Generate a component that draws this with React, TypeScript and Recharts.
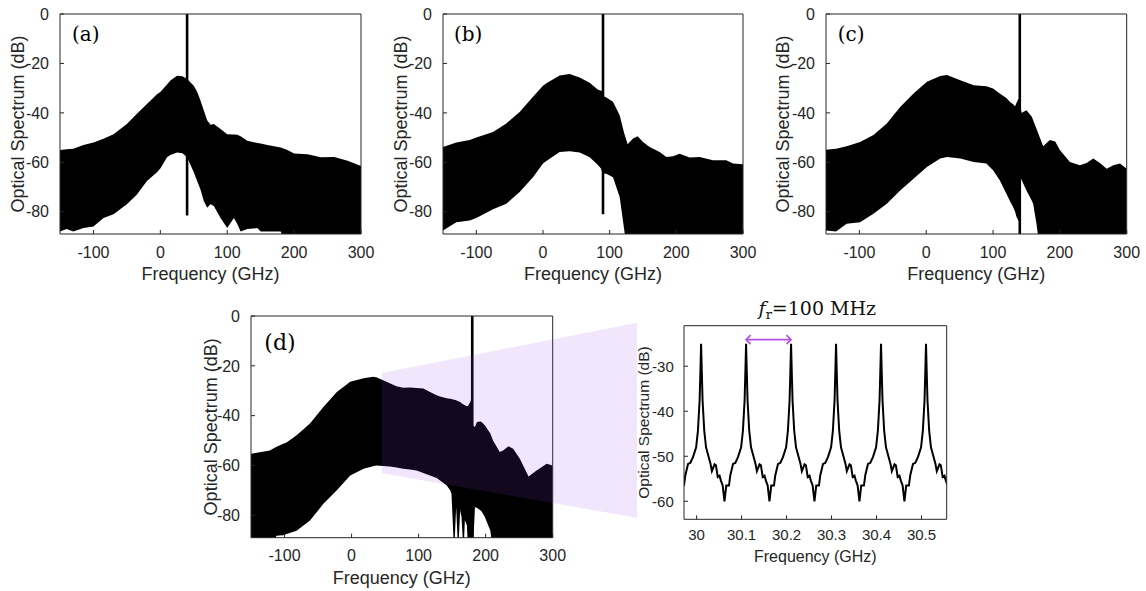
import React from 'react';
import { ComposedChart, Area, Line, XAxis, YAxis, ReferenceLine } from 'recharts';

const INK = '#262626';
const SANS = "'Liberation Sans', Arial, Helvetica, sans-serif";
const SERIF = "'DejaVu Serif', 'Liberation Serif', serif";

// ---------- shared axis settings for the four spectra ----------
const spectrumFreqTicks = [-100, 0, 100, 200, 300];
const spectrumDbTicks = [-80, -60, -40, -20, 0];
const spectrumFreqDomain = [-150, 300];
const spectrumDbDomain = [-89, 0];

// ---------- panel (a) ----------
const freqA = [-150, -140, -130, -115, -100, -85, -70, -50, -35, -20, -5, 0, 10, 15, 25, 33, 40, 50, 55, 60, 65, 70, 75, 80, 90, 100, 110, 115, 120, 130, 145, 150, 160, 180, 190, 200, 220, 240, 260, 280, 300];
const upperA = [-55, -54.7, -54.5, -53, -52, -50.5, -48.6, -44.5, -40.4, -36.4, -32.5, -31.6, -28.5, -26.9, -25, -25.2, -26.3, -29, -31.5, -35, -39, -43, -44.8, -44.5, -46.5, -48.6, -48.7, -48.8, -49.5, -51.3, -52.2, -52.4, -53, -54, -55, -56.4, -56.7, -58, -57.8, -59.4, -61.5];
const lowerA = [-88, -87, -88, -86.6, -86, -82.5, -81, -77, -73, -67.6, -64, -62.5, -58, -57, -56, -56.3, -58, -64, -67.6, -71, -75.7, -78.4, -77, -77.7, -82.5, -86.6, -82.5, -85, -88, -87, -86.6, -88, -88, -88, -95, -95, -95, -95, -95, -95, -95];

// ---------- panel (b) ----------
const freqB = [-150, -130, -110, -100, -75, -55, -35, -15, 0, 5, 25, 40, 55, 70, 82, 87, 89, 92, 95, 105, 115, 122, 125, 127, 135, 142, 150, 160, 175, 185, 195, 205, 220, 235, 255, 275, 285, 300];
const upperB = [-53.8, -52, -51, -50, -47.7, -44.3, -39.6, -33.5, -29, -28, -24.9, -24.3, -25.7, -27.8, -30.5, -31, -31, -33.5, -33.8, -35.5, -41, -48.4, -51, -52.7, -50.4, -49.5, -51.8, -53.8, -55.8, -57.8, -57.5, -56.5, -58.1, -57.8, -59.2, -59.2, -60.5, -60.8];
const lowerB = [-87.6, -84.2, -83.5, -82.5, -79, -76.8, -72, -66, -60.5, -59.5, -55.8, -55.5, -56, -58, -61, -62.5, -64, -64.6, -64.6, -66, -74, -87.6, -95, -95, -95, -95, -95, -95, -95, -95, -95, -95, -95, -95, -95, -95, -95, -95];

// ---------- panel (c) ----------
const freqC = [-150, -135, -119, -99, -79, -59, -39, -19, 1, 21, 31, 51, 71, 90, 100, 110, 120, 125, 130, 133, 135, 137, 139, 141, 143, 145, 150, 158, 160, 165, 170, 175, 185, 193, 200, 215, 230, 240, 250, 260, 270, 280, 290, 300];
const upperC = [-54.9, -54.5, -53.5, -51.8, -49, -44.3, -37.6, -32.2, -27.4, -25.1, -24.7, -26.8, -28.8, -29.2, -30.1, -32.2, -34, -35.5, -36.5, -37.3, -36, -34.9, -34, -38, -40, -39.6, -38.9, -41.6, -43, -46.4, -50, -53.5, -51, -51.6, -55, -59.9, -61.2, -60.3, -58.5, -60.3, -62.6, -61.2, -60.5, -62.6];
const lowerC = [-87.6, -88, -84.9, -84.2, -80.8, -76.8, -71.4, -66.6, -61.9, -58.5, -57.8, -58.5, -59.9, -60.5, -63.2, -67.3, -72.7, -75.5, -78.1, -80, -82, -83, -84, -66, -67.3, -68.5, -71.4, -75.5, -76.8, -85, -95, -95, -95, -95, -95, -95, -95, -95, -95, -95, -95, -95, -95, -95];

// ---------- panel (d) ----------
const freqD = [-150, -122, -112, -102, -97, -82, -62, -42, -22, -2, 18, 32, 37, 47, 57, 67, 77, 87, 97, 107, 117, 127, 132, 142, 147, 149, 153, 156, 159, 162, 164, 167, 169, 172, 174, 177, 179, 181, 184, 187, 192, 194, 199, 207, 211, 221, 226, 234, 241, 251, 264, 276, 291, 300];
const upperD = [-55.3, -54, -52.5, -51.3, -50.8, -47.9, -43.2, -36.5, -30.5, -26.4, -25, -24.4, -24.6, -25.8, -27, -28.2, -28.8, -28.7, -28.9, -29.1, -30.5, -31.8, -32.3, -33, -33.2, -33.3, -33.6, -33.8, -34.2, -34.5, -35, -35.5, -35.8, -36.2, -36, -34.5, -33, -44, -44.6, -42.6, -42.4, -42.6, -44, -47.2, -50, -54.6, -54, -52.3, -53.3, -57.3, -64.4, -62, -59.3, -60];
const lowerD = [-95, -95, -88.2, -88, -87.5, -86.2, -82.1, -75.4, -70, -64, -61.3, -60.3, -60, -60.2, -60.4, -60.8, -61.3, -61.6, -62, -63, -64, -65, -66, -68, -70, -71.4, -95, -76.8, -95, -78, -80.8, -95, -82, -84, -95, -95, -95, -95, -76.8, -77, -78, -78.5, -80.8, -86.2, -95, -95, -95, -95, -95, -95, -95, -95, -95, -95];

// CW tone of each panel: frequency (GHz) and the lowest level its line reaches (dB)
const cwFreq = [40, 90, 140, 180];
const cwFloor = [-81.5, -81, -89, -89];
const panelTags = ['(a)', '(b)', '(c)', '(d)'];

// ---------- zoomed comb ----------
const zoomFreq = [
  29.966, 29.972, 29.975, 29.981, 29.986, 29.992, 29.999, 30.003, 30.0067, 30.0085, 30.01, 30.0115, 30.0133, 30.017, 30.021, 30.027, 30.031, 30.034, 30.04, 30.043, 30.047, 30.051, 30.054, 30.058, 30.062,
  30.066, 30.072, 30.075, 30.081, 30.086, 30.092, 30.099, 30.103, 30.1067, 30.1085, 30.11, 30.1115, 30.1133, 30.117, 30.121, 30.127, 30.131, 30.134, 30.14, 30.143, 30.147, 30.151, 30.154, 30.158, 30.162,
  30.166, 30.172, 30.175, 30.181, 30.186, 30.192, 30.199, 30.203, 30.2067, 30.2085, 30.21, 30.2115, 30.2133, 30.217, 30.221, 30.227, 30.231, 30.234, 30.24, 30.243, 30.247, 30.251, 30.254, 30.258, 30.262,
  30.266, 30.272, 30.275, 30.281, 30.286, 30.292, 30.299, 30.303, 30.3067, 30.3085, 30.31, 30.3115, 30.3133, 30.317, 30.321, 30.327, 30.331, 30.334, 30.34, 30.343, 30.347, 30.351, 30.354, 30.358, 30.362,
  30.366, 30.372, 30.375, 30.381, 30.386, 30.392, 30.399, 30.403, 30.4067, 30.4085, 30.41, 30.4115, 30.4133, 30.417, 30.421, 30.427, 30.431, 30.434, 30.44, 30.443, 30.447, 30.451, 30.454, 30.458, 30.462,
  30.466, 30.472, 30.475, 30.481, 30.486, 30.492, 30.499, 30.503, 30.5067, 30.5085, 30.51, 30.5115, 30.5133, 30.517, 30.521, 30.527, 30.531, 30.534, 30.54, 30.543, 30.547, 30.551, 30.554, 30.558,
];
const zoomDb = [
  -56.5, -56.4, -54.2, -51.7, -51.5, -50.2, -48, -44.3, -37.6, -31, -25, -31, -37.6, -44.3, -48, -50.2, -51.7, -53.3, -51.8, -52, -54.6, -54.3, -55.4, -56.5, -60,
  -56.5, -56.5, -54.2, -51.7, -51.5, -50.2, -48, -44.3, -37.6, -31, -25, -31, -37.6, -44.3, -48, -50.2, -51.7, -53.3, -51.8, -52, -54.6, -54.3, -55.4, -56.5, -60,
  -56.5, -56.5, -54.2, -51.7, -51.5, -50.2, -48, -44.3, -37.6, -31, -25, -31, -37.6, -44.3, -48, -50.2, -51.7, -53.3, -51.8, -52, -54.6, -54.3, -55.4, -56.5, -60,
  -56.5, -56.5, -54.2, -51.7, -51.5, -50.2, -48, -44.3, -37.6, -31, -25, -31, -37.6, -44.3, -48, -50.2, -51.7, -53.3, -51.8, -52, -54.6, -54.3, -55.4, -56.5, -60,
  -56.5, -56.5, -54.2, -51.7, -51.5, -50.2, -48, -44.3, -37.6, -31, -25, -31, -37.6, -44.3, -48, -50.2, -51.7, -53.3, -51.8, -52, -54.6, -54.3, -55.4, -56.5, -60,
  -56.5, -56.5, -54.2, -51.7, -51.5, -50.2, -48, -44.3, -37.6, -31, -25, -31, -37.6, -44.3, -48, -50.2, -51.7, -53.3, -51.8, -52, -54.6, -54.3, -55.4, -56.5,
];
const zoomFreqTicks = [30, 30.1, 30.2, 30.3, 30.4, 30.5];
const zoomDbTicks = [-60, -50, -40, -30];
const zoomFreqDomain = [29.972, 30.556];
const zoomDbDomain = [-64, -21];
const spacingFrom = 30.11;
const spacingTo = 30.21;
const spacingLevel = -24.1;

// ---------- layout (positions only) ----------
const spectrumLayout = [
  { left: 0, top: 0, width: 380, height: 295, margin: { top: 13, right: 18, bottom: 11, left: 0 }, tagSize: 20, tagDx: 12, tagDy: 28.4, yTitleDx: -42, xTitleDy: 40 },
  { left: 383.3, top: 0, width: 380, height: 295, margin: { top: 13, right: 19, bottom: 11, left: 0 }, tagSize: 20, tagDx: 11, tagDy: 28.4, yTitleDx: -42.5, xTitleDy: 40 },
  { left: 766, top: 0, width: 380, height: 295, margin: { top: 13, right: 18.3, bottom: 11, left: 0 }, tagSize: 20, tagDx: 11.7, tagDy: 28.4, yTitleDx: -43, xTitleDy: 40 },
  { left: 191, top: 300, width: 380, height: 291, margin: { top: 15, right: 17.3, bottom: 3.3, left: 0 }, tagSize: 22, tagDx: 13.3, tagDy: 35, yTitleDx: -39.5, xTitleDy: 40.6 },
];
const zoomWindowPolygon = '382,373 637,322.7 637,517.7 382,473.3';

const xTitle = (text: string, dy: number, size: number) => (props: any) => {
  const vb = props.viewBox || { x: 0, y: 0, width: 0, height: 0 };
  return (
    <text x={vb.x + vb.width / 2} y={vb.y + dy} textAnchor="middle" dominantBaseline="central" fontFamily={SANS} fontSize={size} fill={INK}>
      {text}
    </text>
  );
};

const yTitle = (text: string, dx: number, size: number) => (props: any) => {
  const vb = props.viewBox || { x: 0, y: 0, width: 0, height: 0 };
  const cx = vb.x + vb.width + dx;
  const cy = vb.y + vb.height / 2;
  return (
    <text x={cx} y={cy} transform={`rotate(-90, ${cx}, ${cy})`} textAnchor="middle" dominantBaseline="central" fontFamily={SANS} fontSize={size} fill={INK}>
      {text}
    </text>
  );
};

const tagLabel = (text: string, dx: number, dy: number, size: number) => (props: any) => {
  const vb = props.viewBox || { x: 0, y: 0, width: 0, height: 0 };
  return (
    <text x={vb.x + dx} y={vb.y + dy} fontFamily={SERIF} fontSize={size} fill="#000">
      {text}
    </text>
  );
};

const combTitle = (props: any) => {
  const vb = props.viewBox || { x: 0, y: 0, width: 0, height: 0 };
  return (
    <text x={vb.x + vb.width / 2 + 2} y={vb.y - 10} textAnchor="middle" fontFamily={SERIF} fontSize={19} fill="#111">
      <tspan fontStyle="italic">f</tspan>
      <tspan fontSize={13} dy={4}>r</tspan>
      <tspan dy={-4}>=100 MHz</tspan>
    </text>
  );
};

const spacingArrow = (props: any) => {
  const { x1, y1, x2 } = props;
  const c = '#b44ee6';
  const h = 4.5;
  return (
    <g>
      <line x1={x1} y1={y1} x2={x2} y2={y1} stroke={c} strokeWidth={1.6} />
      <polyline points={`${x1 + h},${y1 - h} ${x1},${y1} ${x1 + h},${y1 + h}`} fill="none" stroke={c} strokeWidth={1.6} />
      <polyline points={`${x2 - h},${y1 - h} ${x2},${y1} ${x2 - h},${y1 + h}`} fill="none" stroke={c} strokeWidth={1.6} />
    </g>
  );
};

function SpectrumPanel({ idx, freq, upper, lower }: { idx: number; freq: number[]; upper: number[]; lower: number[] }) {
  const L = spectrumLayout[idx];
  const data = freq.map((f, i) => ({ f, band: [lower[i], upper[i]] }));
  const tickStyle = { fontSize: 16, fill: INK, fontFamily: SANS };
  return (
    <div style={{ position: 'absolute', left: L.left, top: L.top }}>
      <ComposedChart width={L.width} height={L.height} data={data} margin={L.margin}>
        <XAxis
          dataKey="f"
          type="number"
          domain={spectrumFreqDomain}
          ticks={spectrumFreqTicks}
          interval={0}
          allowDataOverflow
          height={50}
          tickSize={-4}
          tickMargin={16.3}
          stroke={INK}
          tick={tickStyle}
          label={xTitle('Frequency (GHz)', L.xTitleDy, 18)}
        />
        <XAxis
          xAxisId="top"
          orientation="top"
          type="number"
          domain={spectrumFreqDomain}
          ticks={spectrumFreqTicks}
          interval={0}
          allowDataOverflow
          height={1}
          tickSize={-4}
          tick={false}
          stroke={INK}
          label={tagLabel(panelTags[idx], L.tagDx, L.tagDy, L.tagSize)}
        />
        <YAxis
          type="number"
          domain={spectrumDbDomain}
          ticks={spectrumDbTicks}
          interval={0}
          allowDataOverflow
          width={60}
          tickSize={-4}
          tickMargin={15}
          stroke={INK}
          tick={tickStyle}
          label={yTitle('Optical Spectrum (dB)', L.yTitleDx, 18)}
        />
        <YAxis
          yAxisId="right"
          orientation="right"
          type="number"
          domain={spectrumDbDomain}
          ticks={spectrumDbTicks}
          interval={0}
          allowDataOverflow
          width={1}
          tickSize={-4}
          tick={false}
          stroke={INK}
        />
        <Area dataKey="band" type="linear" stroke="none" fill="#000" fillOpacity={1} isAnimationActive={false} />
        <ReferenceLine
          segment={[{ x: cwFreq[idx], y: 0 }, { x: cwFreq[idx], y: cwFloor[idx] }]}
          stroke="#000"
          strokeWidth={2.6}
        />
      </ComposedChart>
    </div>
  );
}

function CombPanel() {
  const data = zoomFreq.map((f, i) => ({ f, db: zoomDb[i] }));
  const tickStyle = { fontSize: 15, fill: INK, fontFamily: SANS };
  return (
    <div style={{ position: 'absolute', left: 624, top: 285 }}>
      <ComposedChart width={340} height={306} data={data} margin={{ top: 39.7, right: 16.3, bottom: 21.7, left: 0 }}>
        <XAxis
          dataKey="f"
          type="number"
          domain={zoomFreqDomain}
          ticks={zoomFreqTicks}
          interval={0}
          allowDataOverflow
          height={50}
          tickSize={-4}
          tickMargin={14.3}
          stroke={INK}
          tick={tickStyle}
          label={xTitle('Frequency (GHz)', 36.7, 16)}
        />
        <XAxis
          xAxisId="top"
          orientation="top"
          type="number"
          domain={zoomFreqDomain}
          ticks={zoomFreqTicks}
          interval={0}
          allowDataOverflow
          height={1}
          tickSize={-4}
          tick={false}
          stroke={INK}
          label={combTitle}
        />
        <YAxis
          type="number"
          domain={zoomDbDomain}
          ticks={zoomDbTicks}
          interval={0}
          allowDataOverflow
          width={60}
          tickSize={-4}
          tickMargin={14.2}
          stroke={INK}
          tick={tickStyle}
          label={yTitle('Optical Spectrum (dB)', -41, 15.5)}
        />
        <YAxis
          yAxisId="right"
          orientation="right"
          type="number"
          domain={zoomDbDomain}
          ticks={zoomDbTicks}
          interval={0}
          allowDataOverflow
          width={1}
          tickSize={-4}
          tick={false}
          stroke={INK}
        />
        <Line dataKey="db" type="linear" stroke="#000" strokeWidth={2} dot={false} isAnimationActive={false} />
        <ReferenceLine
          segment={[{ x: spacingFrom, y: spacingLevel }, { x: spacingTo, y: spacingLevel }]}
          shape={spacingArrow}
        />
      </ComposedChart>
    </div>
  );
}

export default function App() {
  return (
    <div style={{ position: 'absolute', left: 0, top: 0, width: 1146, height: 591, background: '#fff', overflow: 'hidden' }}>
      <SpectrumPanel idx={0} freq={freqA} upper={upperA} lower={lowerA} />
      <SpectrumPanel idx={1} freq={freqB} upper={upperB} lower={lowerB} />
      <SpectrumPanel idx={2} freq={freqC} upper={upperC} lower={lowerC} />
      <SpectrumPanel idx={3} freq={freqD} upper={upperD} lower={lowerD} />
      <CombPanel />
      <svg width={1146} height={591} style={{ position: 'absolute', left: 0, top: 0, pointerEvents: 'none' }}>
        <polygon points={zoomWindowPolygon} fill="rgb(150,60,230)" fillOpacity={0.13} />
      </svg>
    </div>
  );
}
